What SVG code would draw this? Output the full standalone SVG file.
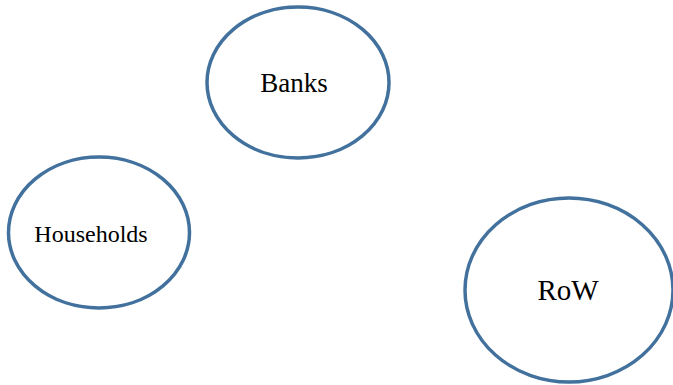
<svg xmlns="http://www.w3.org/2000/svg" width="673" height="385" viewBox="0 0 673 385">
<style>
.node ellipse { fill: #ffffff; stroke: #41719C; stroke-width: 3.5; }
.node text { font-family: "Liberation Serif", "Times New Roman", serif; fill: #000000; text-anchor: middle; }
</style>
<rect width="673" height="385" fill="#ffffff"/>
<g id="connectors"></g>
<g id="banks" class="node">
<ellipse cx="298" cy="82.5" rx="91" ry="75.5"/>
<text x="294" y="92" font-size="27">Banks</text>
</g>
<g id="households" class="node">
<ellipse cx="99" cy="232.5" rx="90.5" ry="75.5"/>
<text x="91" y="242" font-size="24">Households</text>
</g>
<g id="row" class="node">
<ellipse cx="569" cy="290" rx="104" ry="92"/>
<text x="568" y="300" font-size="29">RoW</text>
</g>
</svg>
